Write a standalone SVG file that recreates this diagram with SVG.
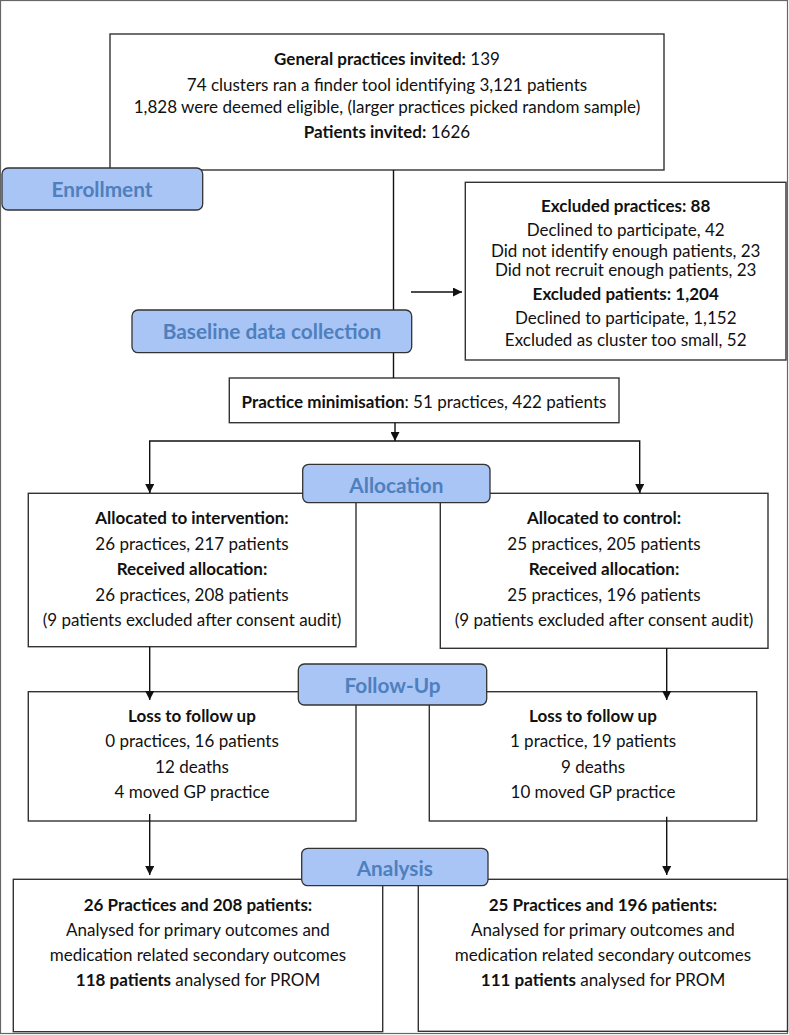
<svg xmlns="http://www.w3.org/2000/svg" width="789" height="1035" viewBox="0 0 789 1035">
<defs>
<marker id="ah" viewBox="0 0 10 10" refX="10" refY="5" markerWidth="9" markerHeight="9" markerUnits="userSpaceOnUse" orient="auto"><path d="M0,0 L10,5 L0,10 z" fill="#111"/></marker>
<style>
.box{fill:#fff;stroke:#333;stroke-width:1.4}
.pill{fill:#a8c5f6;stroke:#333;stroke-width:1.3}
.t{font-family:Lato,"Liberation Sans",sans-serif;font-size:17px;fill:#111;text-anchor:middle}
.b{font-weight:bold}
.p{font-family:Lato,"Liberation Sans",sans-serif;font-size:20.8px;font-weight:bold;fill:#4f7fbd;text-anchor:middle}
.c{stroke:#111;stroke-width:1.4;fill:none}
</style>
</defs>
<rect x="0.5" y="0.5" width="787" height="1033" fill="#fff" stroke="#666" stroke-width="1.2"/>
<g id="top">
<rect class="box" x="110" y="34" width="554" height="136"/>
<text class="t" x="387" y="65"><tspan class="b">General practices invited:</tspan> 139</text>
<text class="t" x="387" y="91">74 clusters ran a finder tool identifying 3,121 patients</text>
<text class="t" x="387" y="113">1,828 were deemed eligible, (larger practices picked random sample)</text>
<text class="t" x="387" y="138"><tspan class="b">Patients invited:</tspan> 1626</text>
</g>
<g id="excluded">
<rect class="box" x="465.3" y="182.3" width="320.7" height="177.7"/>
<text class="t b" x="625.7" y="212">Excluded practices: 88</text>
<text class="t" x="625.7" y="235.5">Declined to participate, 42</text>
<text class="t" x="625.7" y="256.5">Did not identify enough patients, 23</text>
<text class="t" x="625.7" y="275.5">Did not recruit enough patients, 23</text>
<text class="t b" x="625.7" y="299.5">Excluded patients: 1,204</text>
<text class="t" x="625.7" y="324">Declined to participate, 1,152</text>
<text class="t" x="625.7" y="345.5">Excluded as cluster too small, 52</text>
</g>
<g id="minimisation">
<rect class="box" x="229.3" y="378" width="389.7" height="44.7"/>
<text class="t" x="424" y="408"><tspan class="b">Practice minimisation</tspan>: 51 practices, 422 patients</text>
</g>
<g id="alloc-int">
<rect class="box" x="28.3" y="493.3" width="327.7" height="153.4"/>
<text class="t b" x="192" y="524">Allocated to intervention:</text>
<text class="t" x="192" y="549.5">26 practices, 217 patients</text>
<text class="t b" x="192" y="575">Received allocation:</text>
<text class="t" x="192" y="600.5">26 practices, 208 patients</text>
<text class="t" x="192" y="626">(9 patients excluded after consent audit)</text>
</g>
<g id="alloc-ctl">
<rect class="box" x="440.3" y="493.3" width="327.7" height="155"/>
<text class="t b" x="604" y="524">Allocated to control:</text>
<text class="t" x="604" y="549.5">25 practices, 205 patients</text>
<text class="t b" x="604" y="575">Received allocation:</text>
<text class="t" x="604" y="600.5">25 practices, 196 patients</text>
<text class="t" x="604" y="626">(9 patients excluded after consent audit)</text>
</g>
<g id="fu-int">
<rect class="box" x="28.3" y="691.7" width="327.7" height="129.3"/>
<text class="t b" x="192" y="722">Loss to follow up</text>
<text class="t" x="192" y="747">0 practices, 16 patients</text>
<text class="t" x="192" y="773">12 deaths</text>
<text class="t" x="192" y="798">4 moved GP practice</text>
</g>
<g id="fu-ctl">
<rect class="box" x="429.3" y="691.7" width="327.4" height="129.3"/>
<text class="t b" x="593" y="722">Loss to follow up</text>
<text class="t" x="593" y="747">1 practice, 19 patients</text>
<text class="t" x="593" y="773">9 deaths</text>
<text class="t" x="593" y="798">10 moved GP practice</text>
</g>
<g id="an-int">
<rect class="box" x="13.3" y="879.3" width="369.4" height="152.4"/>
<text class="t b" x="198" y="910.5">26 Practices and 208 patients:</text>
<text class="t" x="198" y="935.5">Analysed for primary outcomes and</text>
<text class="t" x="198" y="961">medication related secondary outcomes</text>
<text class="t" x="198" y="986"><tspan class="b">118 patients</tspan> analysed for PROM</text>
</g>
<g id="an-ctl">
<rect class="box" x="418.3" y="879.3" width="369.2" height="152"/>
<text class="t b" x="603" y="910.5">25 Practices and 196 patients:</text>
<text class="t" x="603" y="935.5">Analysed for primary outcomes and</text>
<text class="t" x="603" y="961">medication related secondary outcomes</text>
<text class="t" x="603" y="986"><tspan class="b">111 patients</tspan> analysed for PROM</text>
</g>
<g id="connectors">
<line class="c" x1="393.5" y1="170" x2="393.5" y2="378"/>
<line class="c" x1="411" y1="292" x2="462" y2="292" marker-end="url(#ah)"/>
<line class="c" x1="395" y1="422.7" x2="395" y2="441" marker-end="url(#ah)"/>
<polyline class="c" points="149.7,493 149.7,441 639.7,441 639.7,493"/>
<line class="c" x1="149.7" y1="485" x2="149.7" y2="493" marker-end="url(#ah)"/>
<line class="c" x1="639.7" y1="485" x2="639.7" y2="493" marker-end="url(#ah)"/>
<line class="c" x1="149.7" y1="646.7" x2="149.7" y2="700" marker-end="url(#ah)"/>
<line class="c" x1="666.7" y1="648.3" x2="666.7" y2="700" marker-end="url(#ah)"/>
<line class="c" x1="149.7" y1="814" x2="149.7" y2="875" marker-end="url(#ah)"/>
<line class="c" x1="666.7" y1="816.7" x2="666.7" y2="875" marker-end="url(#ah)"/>
</g>
<g id="enrollment">
<rect class="pill" x="2" y="168" width="200.7" height="42" rx="6"/>
<text class="p" x="102" y="197">Enrollment</text>
</g>
<g id="baseline">
<rect class="pill" x="132" y="310" width="279.7" height="42.7" rx="6"/>
<text class="p" x="272" y="339">Baseline data collection</text>
</g>
<g id="allocation">
<rect class="pill" x="302.7" y="464.3" width="187.3" height="38.4" rx="6"/>
<text class="p" x="396.4" y="493">Allocation</text>
</g>
<g id="followup">
<rect class="pill" x="298.3" y="664" width="188.4" height="41" rx="6"/>
<text class="p" x="392.5" y="693">Follow-Up</text>
</g>
<g id="analysis">
<rect class="pill" x="301.7" y="848.3" width="186.3" height="37.4" rx="6"/>
<text class="p" x="394.8" y="876">Analysis</text>
</g>
</svg>
